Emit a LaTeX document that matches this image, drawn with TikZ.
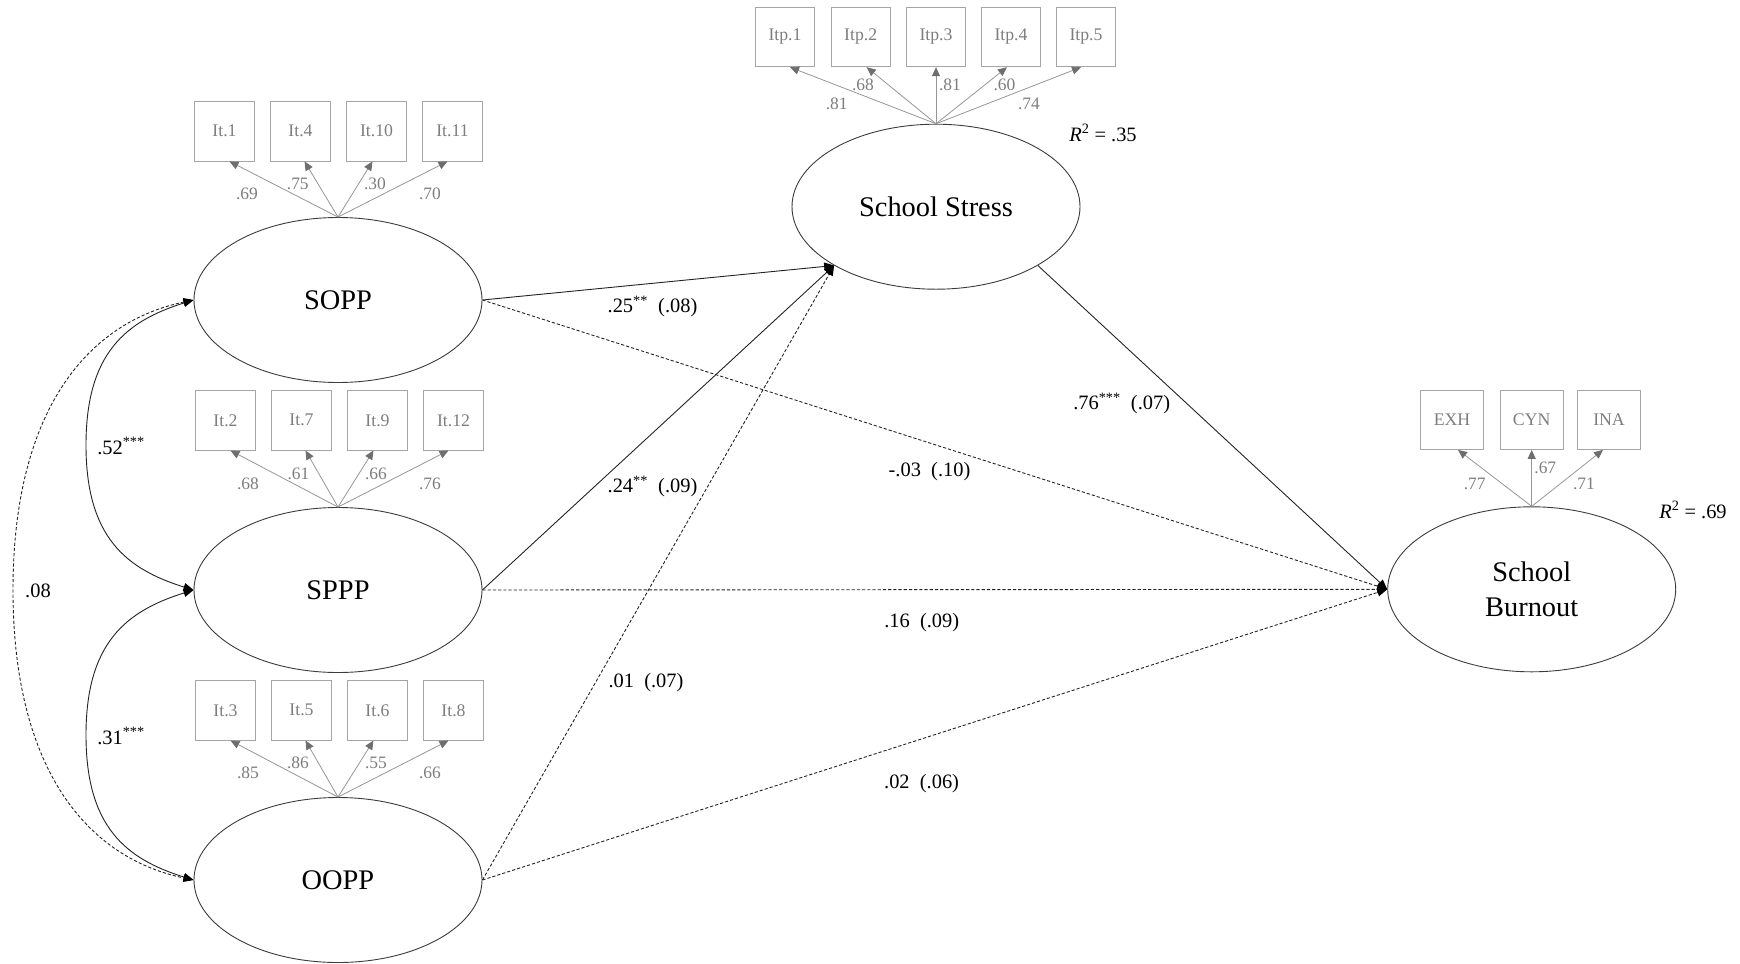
\documentclass[tikz,border=0pt]{standalone}
\usepackage{fontspec}
\setmainfont{Liberation Serif}
\usetikzlibrary{arrows.meta,shapes.geometric}
\definecolor{ellgray}{RGB}{60,60,60}
\definecolor{boxgray}{RGB}{165,165,165}
\definecolor{itemtxt}{RGB}{125,125,125}
\definecolor{loadline}{RGB}{150,150,150}
\definecolor{tipgray}{RGB}{110,110,110}
\definecolor{pathcol}{RGB}{35,35,35}
\begin{document}
\begin{tikzpicture}[x=1bp,y=1bp,
 latent/.style={ellipse, draw=ellgray, line width=0.9bp, minimum width=288bp, minimum height=165bp, inner sep=0pt, align=center, font=\fontsize{28.5}{36}\selectfont},
 item/.style={rectangle, draw=boxgray, line width=0.9bp, minimum width=59.5bp, minimum height=59.5bp, inner sep=0pt, text=itemtxt, font=\fontsize{17.8}{20}\selectfont},
 wideitem/.style={item, minimum width=63.5bp},
 load/.style={draw=loadline, line width=0.8bp, -{Triangle[length=9bp,width=8bp,color=tipgray]}},
 loadlab/.style={text=itemtxt, font=\fontsize{17.5}{20}\selectfont, inner sep=0pt},
 pathsolid/.style={draw=pathcol, line width=0.9bp, -{Triangle[length=10bp,width=8bp,color=black]}},
 pathdash/.style={pathsolid, dash pattern=on 3.2bp off 2bp},
 cov/.style={draw=pathcol, line width=0.9bp, {Triangle[length=10bp,width=8bp,color=black]}-{Triangle[length=10bp,width=8bp,color=black]}},
 covdash/.style={cov, dash pattern=on 3.2bp off 2bp},
 plab/.style={font=\fontsize{20.5}{24}\selectfont, inner sep=0pt},
]
\useasboundingbox (0,0) rectangle (1740,-963);

% latent variables
\node[latent] (sopp) at (338,-300) {SOPP};
\node[latent] (sppp) at (338,-590) {SPPP};
\node[latent] (oopp) at (338,-880) {OOPP};
\node[latent] (stress) at (936,-206.7) {School Stress};
\node[latent] (burn) at (1531.7,-589.3) {School\\Burnout};

% SOPP items
\node[item] (a1) at (224.5,-131.2) {It.1};
\node[item] (a2) at (300.5,-131.2) {It.4};
\node[item] (a3) at (376.5,-131.2) {It.10};
\node[item] (a4) at (452.5,-131.2) {It.11};
% SPPP items
\node[item] (b1) at (225.5,-420.3) {It.2};
\node[item] (b2) at (301.5,-420.3) {It.7};
\node[item] (b3) at (377.5,-420.3) {It.9};
\node[item] (b4) at (453.5,-420.3) {It.12};
% OOPP items
\node[item] (c1) at (225.5,-710.3) {It.3};
\node[item] (c2) at (301.5,-710.3) {It.5};
\node[item] (c3) at (377.5,-710.3) {It.6};
\node[item] (c4) at (453.5,-710.3) {It.8};
% Stress items
\node[item] (d1) at (785,-37) {Itp.1};
\node[item] (d2) at (860.7,-37) {Itp.2};
\node[item] (d3) at (936,-37) {Itp.3};
\node[item] (d4) at (1011,-37) {Itp.4};
\node[item] (d5) at (1086,-37) {Itp.5};
% Burnout items
\node[wideitem] (e1) at (1452,-419.7) {EXH};
\node[wideitem] (e2) at (1531.7,-419.7) {CYN};
\node[wideitem] (e3) at (1609,-419.7) {INA};

% loadings
\draw[load] (sopp.north) -- ([xshift=5bp]a1.south);
\draw[load] (sopp.north) -- ([xshift=4bp]a2.south);
\draw[load] (sopp.north) -- ([xshift=-4bp]a3.south);
\draw[load] (sopp.north) -- ([xshift=-5bp]a4.south);
\draw[load] (sppp.north) -- ([xshift=5bp]b1.south);
\draw[load] (sppp.north) -- ([xshift=4bp]b2.south);
\draw[load] (sppp.north) -- ([xshift=-4bp]b3.south);
\draw[load] (sppp.north) -- ([xshift=-5bp]b4.south);
\draw[load] (oopp.north) -- ([xshift=5bp]c1.south);
\draw[load] (oopp.north) -- ([xshift=4bp]c2.south);
\draw[load] (oopp.north) -- ([xshift=-4bp]c3.south);
\draw[load] (oopp.north) -- ([xshift=-5bp]c4.south);
\draw[load] (stress.north) -- ([xshift=5bp]d1.south);
\draw[load] (stress.north) -- ([xshift=6bp]d2.south);
\draw[load] (stress.north) -- (d3.south);
\draw[load] (stress.north) -- ([xshift=-4bp]d4.south);
\draw[load] (stress.north) -- ([xshift=-5bp]d5.south);
\draw[load] (burn.north) -- ([xshift=6bp]e1.south);
\draw[load] (burn.north) -- (e2.south);
\draw[load] (burn.north) -- ([xshift=-6bp]e3.south);

% loading labels
\node[loadlab] (la1) at (247,-194) {.69};
\node[loadlab] (la2) at (297.8,-184.3) {.75};
\node[loadlab] (la3) at (375,-184.3) {.30};
\node[loadlab] (la4) at (430,-194) {.70};
\node[loadlab] (lb1) at (248,-484.3) {.68};
\node[loadlab] (lb2) at (298.5,-474) {.61};
\node[loadlab] (lb3) at (376,-474) {.66};
\node[loadlab] (lb4) at (430,-484.3) {.76};
\node[loadlab] (lc1) at (248,-773.3) {.85};
\node[loadlab] (lc2) at (298,-763.3) {.86};
\node[loadlab] (lc3) at (376,-763.3) {.55};
\node[loadlab] (lc4) at (430,-773.3) {.66};
\node[loadlab] (ld1) at (836.7,-104.3) {.81};
\node[loadlab] (ld2) at (863,-85) {.68};
\node[loadlab] (ld3) at (950,-85) {.81};
\node[loadlab] (ld4) at (1004.5,-85) {.60};
\node[loadlab] (ld5) at (1029,-104.3) {.74};
\node[loadlab] (le1) at (1474.7,-484.3) {.77};
\node[loadlab] (le2) at (1545.3,-468.3) {.67};
\node[loadlab] (le3) at (1584,-484.3) {.71};

% R squared
\node[plab] (r1) at (1103,-133) {\textit{R}\textsuperscript{2} = .35};
\node[plab] (r2) at (1693,-510) {\textit{R}\textsuperscript{2} = .69};

% covariances
\draw[covdash] (sopp.west) .. controls (84,-323) and (13,-415) .. (13,-590)
  .. controls (13,-765) and (84,-857) .. (oopp.west);
\draw[cov] (sopp.west) .. controls (126,-321) and (86,-353) .. (86,-445)
  .. controls (86,-537) and (126,-569) .. (sppp.west);
\draw[cov] (sppp.west) .. controls (126,-611) and (86,-643) .. (86,-735)
  .. controls (86,-827) and (126,-859) .. (oopp.west);
\node[plab] (k1) at (121,-446) {.52\textsuperscript{***}};
\node[plab] (k2) at (38,-591) {.08};
\node[plab] (k3) at (121,-736) {.31\textsuperscript{***}};

% structural paths
\draw[pathsolid] (sopp.east) -- (stress.210);
\draw[pathsolid] (sppp.east) -- (stress.210);
\draw[pathdash] (oopp.east) -- (stress.210);
\draw[pathdash] (sopp.east) -- (burn.west);
\draw[pathdash] (sppp.east) -- (burn.west);
\draw[pathdash] (oopp.east) -- (burn.west);
\draw[pathsolid] (stress.330) -- (burn.west);

% path labels
\node[plab] (p1) at (652.5,-306.7) {.25\textsuperscript{**}\hspace{0.5em}(.08)};
\node[plab] (p2) at (652.5,-486.7) {.24\textsuperscript{**}\hspace{0.5em}(.09)};
\node[plab] (p3) at (646,-682.5) {.01\hspace{0.5em}(.07)};
\node[plab] (p4) at (1121.7,-403.3) {.76\textsuperscript{***}\hspace{0.5em}(.07)};
\node[plab] (p5) at (929.5,-471.7) {-.03\hspace{0.5em}(.10)};
\node[plab] (p6) at (921.7,-622.7) {.16\hspace{0.5em}(.09)};
\node[plab] (p7) at (921.6,-783.4) {.02\hspace{0.5em}(.06)};
\end{tikzpicture}
\end{document}
